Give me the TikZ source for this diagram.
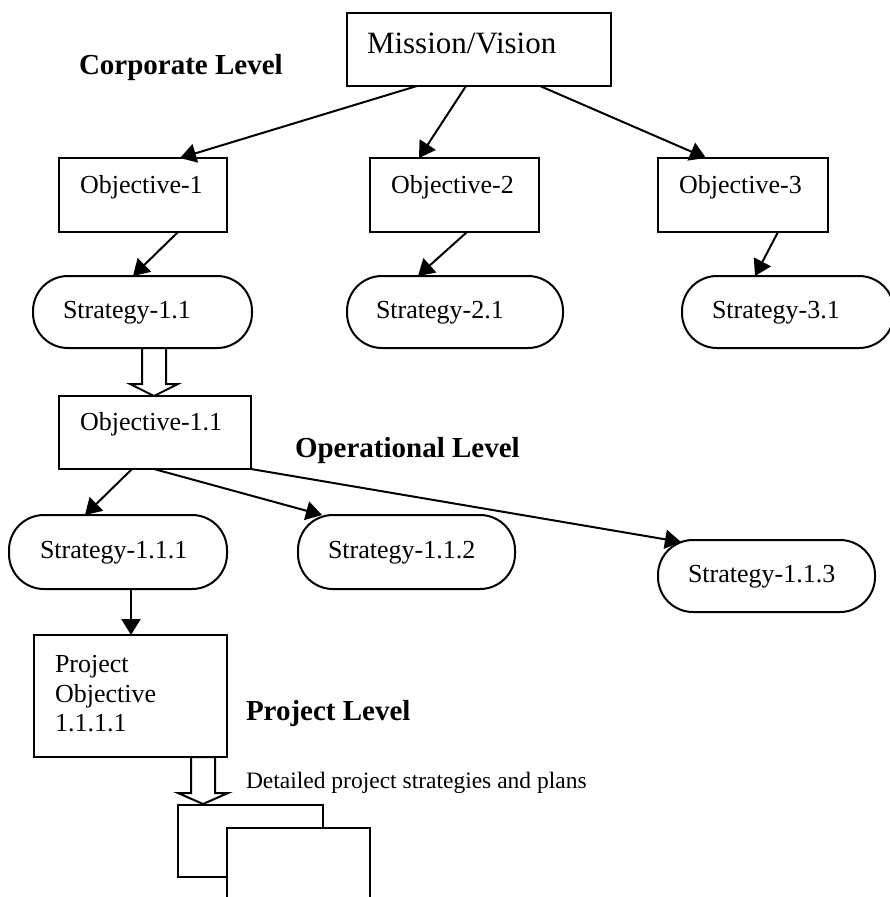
\documentclass[tikz,border=0pt]{standalone}
\usepackage{fontspec}
\setmainfont{Liberation Serif}
\usetikzlibrary{arrows.meta,calc}
\begin{document}
\begin{tikzpicture}[x=1pt,y=-1pt,
  every node/.style={inner sep=0pt, outer sep=0pt},
  box/.style={draw, line width=2pt, anchor=north west, fill=white},
  pill/.style={box, rounded corners=35pt},
  txt/.style={anchor=base west, font=\fontsize{26}{30}\selectfont},
  level/.style={anchor=base west, font=\fontsize{29}{33}\selectfont\bfseries},
  link/.style={line width=2pt, -{Triangle[length=16pt,width=19pt]}},
  hollow/.style={line width=2pt, fill=white, line join=miter}
]
\path[use as bounding box, clip] (0,0) rectangle (890,897);
\fill[white] (0,0) rectangle (890,897);

% corporate level
\node[box, minimum width=264pt, minimum height=73pt] (mv) at (347,13) {};
\node[anchor=base west, font=\fontsize{31}{35}\selectfont] (mvt) at (367,53) {Mission/Vision};
\node[level] (corp) at (79,74) {Corporate Level};

\node[box, minimum width=168pt, minimum height=74pt] (o1) at (59,158) {};
\node[box, minimum width=169pt, minimum height=74pt] (o2) at (370,158) {};
\node[box, minimum width=170pt, minimum height=74pt] (o3) at (658,158) {};
\node[txt] (o1t) at (80,193) {Objective-1};
\node[txt] (o2t) at (391,193) {Objective-2};
\node[txt] (o3t) at (679,193) {Objective-3};

\node[pill, minimum width=219pt, minimum height=72pt] (s11) at (33,276) {};
\node[pill, minimum width=216pt, minimum height=72pt] (s21) at (347,276) {};
\node[pill, minimum width=212pt, minimum height=72pt] (s31) at (682,276) {};
\node[txt] (s11t) at (63,318) {Strategy-1.1};
\node[txt] (s21t) at (376,318) {Strategy-2.1};
\node[txt] (s31t) at (712,318) {Strategy-3.1};

\draw[link] ([xshift=70pt]mv.south west) -- ([xshift=121pt]o1.north west);
\draw[link] ([xshift=119pt]mv.south west) -- ([xshift=49pt]o2.north west);
\draw[link] ([xshift=193pt]mv.south west) -- ([xshift=48pt]o3.north west);
\draw[link] ([xshift=119pt]o1.south west) -- ([xshift=100pt]s11.north west);
\draw[link] ([xshift=97pt]o2.south west) -- ([xshift=71pt]s21.north west);
\draw[link] ([xshift=120pt]o3.south west) -- ([xshift=73pt]s31.north west);

% operational level
\node[box, minimum width=192pt, minimum height=73pt] (o11) at (59,396) {};
\node[txt] (o11t) at (80,430) {Objective-1.1};
\node[level] (oper) at (295,457) {Operational Level};

\draw[hollow] ([xshift=109pt]s11.south west) -- ++(0,36) -- ++(-12,0) -- ++(24,12)
  -- ++(24,-12) -- ++(-12,0) -- ++(0,-36) -- cycle;

\node[pill, minimum width=218pt, minimum height=74pt] (s111) at (9,515) {};
\node[pill, minimum width=217pt, minimum height=74pt] (s112) at (298,515) {};
\node[pill, minimum width=217pt, minimum height=72pt] (s113) at (658,540) {};
\node[txt] (s111t) at (40,558) {Strategy-1.1.1};
\node[txt] (s112t) at (328,558) {Strategy-1.1.2};
\node[txt] (s113t) at (688,582) {Strategy-1.1.3};

\draw[link] ([xshift=73pt]o11.south west) -- ([xshift=76pt]s111.north west);
\draw[link] ([xshift=95pt]o11.south west) -- ([xshift=24pt]s112.north west);
\draw[link] (o11.south east) -- ([xshift=23pt,yshift=-2pt]s113.north west);

% project level
\node[box, minimum width=193pt, minimum height=122pt] (po) at (34,635) {};
\node[txt] (pot1) at (55,672) {Project};
\node[txt] (pot2) at (55,702) {Objective};
\node[txt] (pot3) at (55,731) {1.1.1.1};
\node[level] (proj) at (246,720) {Project Level};

\draw[link] ([xshift=122pt]s111.south west) -- ([xshift=97pt]po.north west);

\draw[hollow] ([xshift=157pt]po.south west) -- ++(0,36) -- ++(-13,0) -- ++(25,11)
  -- ++(25,-11) -- ++(-13,0) -- ++(0,-36) -- cycle;
\node[anchor=base west, font=\fontsize{23.5}{27}\selectfont] (det) at (246,788)
  {Detailed project strategies and plans};

% stacked plan documents
\node[box, minimum width=145pt, minimum height=72pt] (doc1) at (178,805) {};
\node[box, minimum width=143pt, minimum height=90pt] (doc2) at (227,828) {};
\end{tikzpicture}
\end{document}
